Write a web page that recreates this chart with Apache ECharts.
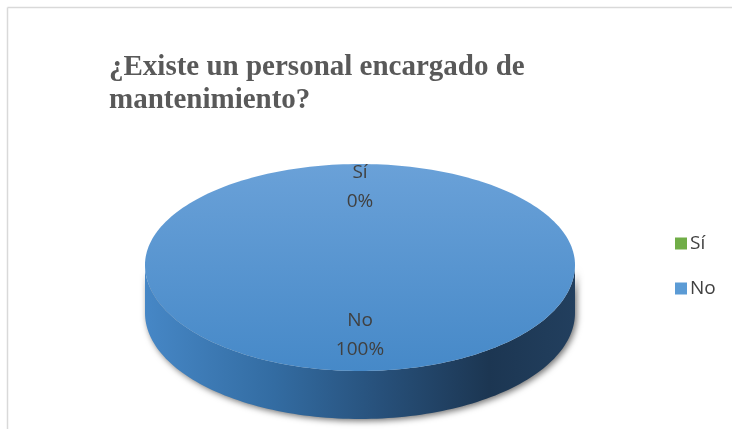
<!DOCTYPE html>
<html><head><meta charset="utf-8">
<script src="https://cdn.jsdelivr.net/npm/echarts@6/dist/echarts.min.js"></script>
<style>html,body{margin:0;padding:0;background:#fff}#c{width:732px;height:429px}</style>
</head><body><div id="c"></div>
<script>
const titleText = '¿Existe un personal encargado de\nmantenimiento?';
const categories = ['Sí', 'No'];
const values = [0, 100];
const percentLabels = ['0%', '100%'];

const topColors = [
  ['#84c15a', '#6aa844'],
  ['#6aa1d8', '#4689c8']
];
const legendColors = ['#70ad47', '#5b9bd5'];

const chart = echarts.init(document.getElementById('c'), null, {renderer: 'canvas'});

const total = values.reduce((a, b) => a + b, 0);
const geo = {cx: 360, cy: 265, rx: 215, ryTop: 101, ryBot: 106, depth: 48};

function pt(a, dy) {
  const ry = Math.cos(a) > 0 ? geo.ryTop : geo.ryBot;
  return [geo.cx + geo.rx * Math.sin(a), geo.cy - ry * Math.cos(a) + (dy || 0)];
}
function arcPoints(a0, a1, dy, n) {
  const pts = [];
  for (let i = 0; i <= n; i++) pts.push(pt(a0 + (a1 - a0) * i / n, dy));
  return pts;
}
function toPath(pts) {
  return pts.map((p, i) => (i ? 'L' : 'M') + p[0].toFixed(2) + ' ' + p[1].toFixed(2)).join(' ');
}

function makeRender(idx) {
  return function (params, api) {
    const v = api.value(0);
    let start = 0;
    for (let i = 0; i < idx; i++) start += values[i];
    const a0 = start / total * Math.PI * 2;
    const a1 = (start + v) / total * Math.PI * 2;
    const children = [];
    if (v > 0) {
      const s0 = Math.max(a0, Math.PI / 2), s1 = Math.min(a1, Math.PI * 3 / 2);
      if (s1 > s0) {
        const front = arcPoints(s0, s1, 0, 120);
        const back = arcPoints(s1, s0, geo.depth, 120);
        children.push({
          type: 'path',
          shape: {pathData: toPath(front.concat(back)) + ' Z'},
          style: {
            fill: new echarts.graphic.LinearGradient(0, 0, 1, 0, [
              {offset: 0, color: '#4687c6'},
              {offset: 0.3, color: '#336ca2'},
              {offset: 0.55, color: '#27507a'},
              {offset: 0.8, color: '#1c3652'},
              {offset: 1, color: '#223f5e'}
            ]),
            shadowBlur: 6,
            shadowColor: 'rgba(0,0,0,0.55)',
            shadowOffsetX: 2,
            shadowOffsetY: 2
          }
        });
      }
      const full = (a1 - a0) >= Math.PI * 2 - 1e-9;
      const arc = arcPoints(a0, a1, 0, 240);
      const d = full ? toPath(arc) + ' Z' : 'M' + geo.cx + ' ' + geo.cy + ' ' + toPath(arc).replace('M', 'L') + ' Z';
      children.push({
        type: 'path',
        shape: {pathData: d},
        style: {
          fill: new echarts.graphic.LinearGradient(0, 0, 0, 1, [
            {offset: 0, color: topColors[idx][0]},
            {offset: 1, color: topColors[idx][1]}
          ])
        }
      });
    }
    const mid = (a0 + a1) / 2;
    children.push({
      type: 'text',
      x: geo.cx + Math.sin(mid) * geo.rx * 0.72,
      y: geo.cy - 4 - Math.cos(mid) * 74,
      z2: 10,
      style: {
        text: categories[idx] + '\n' + percentLabels[idx],
        fill: '#404040',
        font: '19px "Open Sans", "Liberation Sans", sans-serif',
        lineHeight: 29,
        align: 'center',
        verticalAlign: 'middle'
      }
    });
    return {type: 'group', children: children};
  };
}

const series = categories.map((name, i) => ({
  name: name,
  type: 'custom',
  coordinateSystem: 'none',
  renderItem: makeRender(i),
  data: [[values[i]]],
  z: i === 1 ? 1 : 2,
  itemStyle: {color: legendColors[i]},
  silent: true
}));

chart.setOption({
  animation: false,
  backgroundColor: '#fff',
  graphic: [
    {type: 'line', shape: {x1: 7.5, y1: 7.5, x2: 732, y2: 7.5}, style: {stroke: '#d9d9d9', lineWidth: 1.5}},
    {type: 'line', shape: {x1: 7.5, y1: 7.5, x2: 7.5, y2: 429}, style: {stroke: '#d9d9d9', lineWidth: 1.5}}
  ],
  title: {
    text: titleText,
    left: 104,
    top: 46,
    textStyle: {
      fontFamily: '"Liberation Serif", "Times New Roman", serif',
      fontWeight: 'bold',
      fontSize: 29,
      lineHeight: 33,
      color: '#595959'
    }
  },
  legend: {
    orient: 'vertical',
    left: 670,
    top: 229,
    itemGap: 26,
    itemWidth: 12,
    itemHeight: 12,
    icon: 'rect',
    data: categories,
    textStyle: {
      fontFamily: '"Open Sans", "Liberation Sans", sans-serif',
      fontSize: 19,
      color: '#404040',
      padding: [0, 0, 0, -2]
    }
  },
  series: series
});
</script></body></html>
